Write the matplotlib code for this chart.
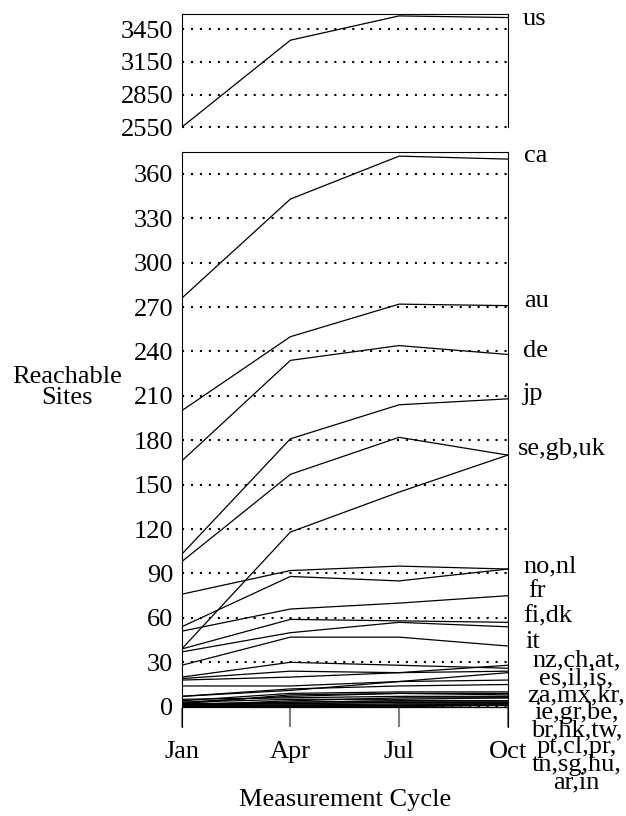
import numpy as np
import matplotlib.pyplot as plt

plt.rcParams['font.family'] = ['Liberation Serif', 'DejaVu Serif']
plt.rcParams['font.size'] = 19

# Measurement cycles on the x axis
cycles = ['Jan', 'Apr', 'Jul', 'Oct']

# us sits on its own (top panel)
us_sites = [2550, 3349, 3572, 3557]

# All the other countries (bottom panel), one value per cycle
countries = ['ca', 'au', 'de', 'jp', 'se', 'gb', 'no', 'nl', 'fr', 'fi', 'dk', 'it',
             'nz', 'ch', 'at', 'es', 'il', 'is', 'za', 'mx', 'kr', 'ie', 'gr', 'be',
             'br', 'hk', 'tw', 'pt', 'cl', 'pr', 'tn', 'sg', 'hu', 'ar', 'in']
jan = [276, 200, 166, 103, 98, 39, 76, 54, 51, 39, 37, 28,
       20, 19, 18, 14, 7, 7, 4, 3, 2, 5, 1, 3,
       2, 1, 2, 1, 0, 1, 0, 1, 0, 0, 0]
apr = [343, 250, 234, 181, 157, 118, 92, 88, 66, 59, 50, 47,
       30, 24, 20, 14, 11, 12, 9, 7, 8, 6, 4, 5,
       3, 3, 2, 2, 1, 1, 0, 1, 1, 0, 0]
jul = [372, 272, 244, 204, 182, 145, 95, 85, 70, 58, 57, 47,
       28, 23, 23, 17, 17, 14, 10, 9, 9, 7, 6, 5,
       4, 4, 3, 3, 2, 1, 1, 1, 1, 0, 0]
oct_ = [370, 271, 238, 208, 170, 170, 93, 93, 75, 57, 54, 41,
        26, 28, 24, 18, 23, 15, 10, 9, 8, 7, 6, 6,
        4, 4, 3, 3, 2, 2, 1, 1, 1, 1, 0]

# Right-hand labels: text and height (bottom panel data units)
right_labels = ['ca', 'au', 'de', 'jp', 'no,nl', 'fr', 'fi,dk', 'it']
right_label_y = [372, 274, 240, 211, 95, 78, 61, 44]
right_label_x = [1.051, 1.050, 1.047, 1.047, 1.047, 1.062, 1.047, 1.053]
stack_labels = ['nz,ch,at,', 'es,il,is,', 'za,mx,kr,', 'ie,gr,be,',
                'br,hk,tw,', 'pt,cl,pr,', 'tn,sg,hu,', 'ar,in']

top_ticks = [2550, 2850, 3150, 3450]
bottom_ticks = list(range(0, 361, 30))

x = np.arange(len(cycles))
fig = plt.figure(figsize=(6.26, 8.16), dpi=100)
ax_top = fig.add_axes([0.2903, 0.8438, 0.5208, 0.1391])
ax_bot = fig.add_axes([0.2903, 0.1091, 0.5208, 0.7050])

dots = dict(color='black', lw=1.5, linestyle=(0, (1, 3.3)), clip_on=False, zorder=1)

# Top panel
ax_top.hlines(top_ticks, 0, 3.04, **dots)
ax_top.plot(x, us_sites, color='black', lw=0.9, zorder=3)
ax_top.set_xlim(0, 3)
ax_top.set_ylim(2548, 3590)
ax_top.set_yticks(top_ticks)
ax_top.set_xticks([])
ax_top.spines['bottom'].set_visible(False)
ax_top.tick_params(axis='y', length=0, pad=6)
ax_top.text(1.047, 3548, 'us', transform=ax_top.get_yaxis_transform(),
            ha='left', va='center')

# Bottom panel
ax_bot.hlines(bottom_ticks, 0, 3.04, **dots)
for i in range(len(countries)):
    ax_bot.plot(x, [jan[i], apr[i], jul[i], oct_[i]], color='black', lw=0.9, zorder=3)
ax_bot.set_xlim(0, 3)
ax_bot.set_ylim(-13.7, 375)
ax_bot.set_yticks(bottom_ticks)
ax_bot.set_xticks(x)
ax_bot.set_xticklabels(cycles)
ax_bot.spines['bottom'].set_visible(False)
ax_bot.tick_params(axis='y', length=0, pad=6)
ax_bot.tick_params(axis='x', direction='in', length=14, width=1.5, color='#808080', pad=10)

trans = ax_bot.get_yaxis_transform()
for lab, ly, lx in zip(right_labels, right_label_y, right_label_x):
    ax_bot.text(lx, ly, lab, transform=trans, ha='left', va='center', clip_on=False)
ax_bot.text(1.031, 174, 'se,gb,uk', transform=trans, ha='left', va='center')
for k, lab in enumerate(stack_labels):
    ax_bot.text(1.21, 31 - k * 11.7, lab, transform=trans, ha='center', va='center')

fig.text(0.5506, 0.019, 'Measurement Cycle', ha='center', va='center')
fig.text(0.107, 0.525, 'Reachable\nSites', ha='center', va='center', linespacing=0.95)

fig.savefig('out.png', dpi=100)
